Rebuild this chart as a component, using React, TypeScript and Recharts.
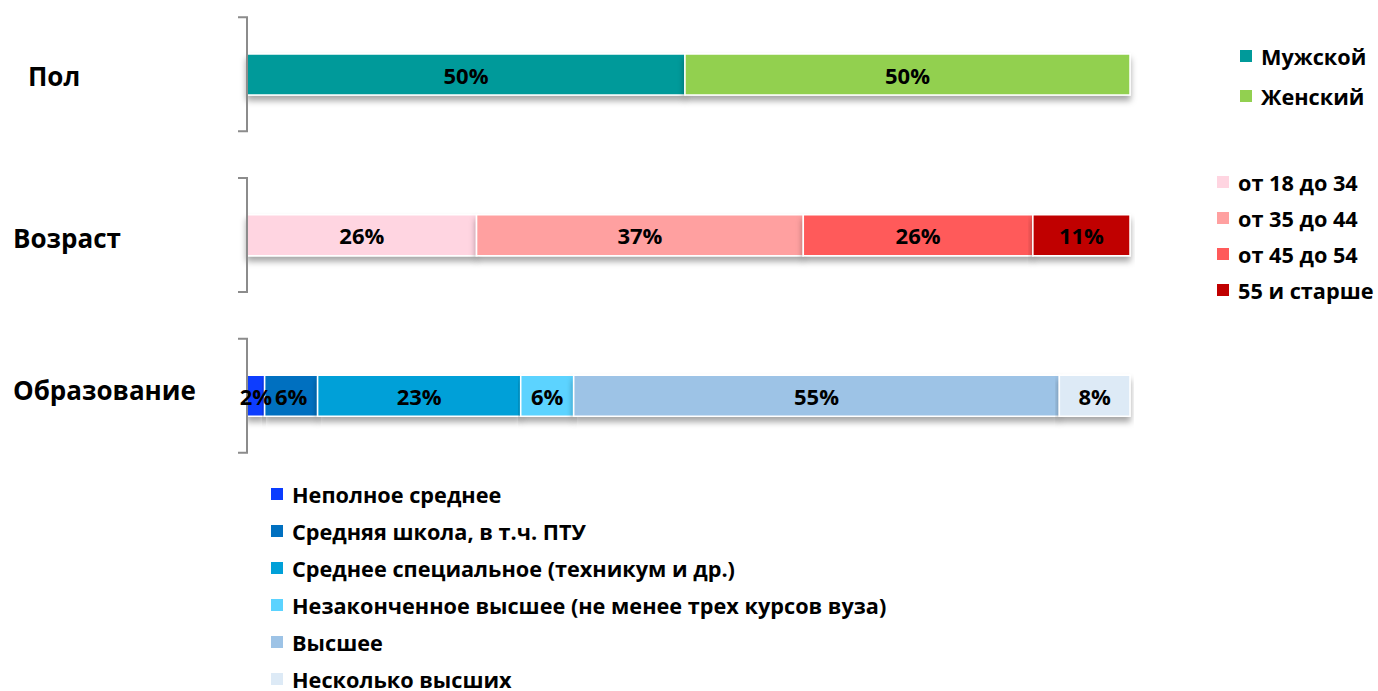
import React from 'react';
import { BarChart, Bar, XAxis, YAxis, LabelList, Legend } from 'recharts';

const categories = ['Пол', 'Возраст', 'Образование'];

const genderNames = ['Мужской', 'Женский'];
const genderValues = [49.6, 50.4];
const genderColors = ['#009A9A', '#92D050'];

const ageNames = ['от 18 до 34', 'от 35 до 44', 'от 45 до 54', '55 и старше'];
const ageValues = [26, 37, 26, 11];
const ageColors = ['#FFD5E1', '#FFA0A0', '#FF5A5A', '#C00000'];

const eduNames = [
  'Неполное среднее',
  'Средняя школа, в т.ч. ПТУ',
  'Среднее специальное (техникум и др.)',
  'Незаконченное высшее (не менее трех курсов вуза)',
  'Высшее',
  'Несколько высших',
];
const eduValues = [2, 6, 23, 6, 55, 8];
const eduColors = ['#0A3CFF', '#0070C0', '#00A0D8', '#5BD3FF', '#9DC3E6', '#DDEAF6'];

const groups = [
  { names: genderNames, values: genderValues, colors: genderColors },
  { names: ageNames, values: ageValues, colors: ageColors },
  { names: eduNames, values: eduValues, colors: eduColors },
];

const series = groups.flatMap((g, gi) =>
  g.names.map((name, i) => ({ key: `s${gi}_${i}`, name, color: g.colors[i], group: gi }))
);

const data = categories.map((cat, gi) => {
  const row: Record<string, any> = { cat };
  groups[gi].values.forEach((v, i) => {
    row[`s${gi}_${i}`] = v;
  });
  return row;
});

const FONT = '"Open Sans", sans-serif';

const labelIndent = [28, 13, 13];
const labelDy = [2, 3, -6];

const CategoryTick = (props: any) => {
  const { x, y, payload, index } = props;
  const h = 57;
  return (
    <g>
      <path
        d={`M ${x - 9} ${y - h} L ${x} ${y - h} L ${x} ${y + h} L ${x - 9} ${y + h}`}
        fill="none"
        stroke="#8c8c8c"
        strokeWidth={2}
      />
      <text
        x={labelIndent[index] ?? 13}
        y={y + (labelDy[index] ?? 0)}
        dominantBaseline="central"
        fontFamily={FONT}
        fontWeight={700}
        fontSize={26}
        fill="#000"
      >
        {payload.value}
      </text>
    </g>
  );
};

const legendLayout = [
  { left: 1240, top: 56, step: 40 },
  { left: 1217, top: 182, step: 36 },
  { left: 271, top: 494, step: 37 },
];

const LegendContent = (props: any) => {
  const payload = props.payload || [];
  return (
    <div style={{ position: 'relative', width: 1378, height: 691 }}>
      {groups.map((g, gi) =>
        g.names.map((name, i) => {
          const item = payload.find((p: any) => p.value === name);
          const color = item ? item.color : g.colors[i];
          const L = legendLayout[gi];
          return (
            <div
              key={`${gi}_${i}`}
              style={{
                position: 'absolute',
                left: L.left,
                top: L.top + i * L.step - 14,
                height: 28,
                display: 'flex',
                alignItems: 'center',
                whiteSpace: 'nowrap',
                fontFamily: FONT,
                fontWeight: 700,
                fontSize: 21.7,
                color: '#000',
              }}
            >
              <span style={{ display: 'inline-block', width: 12, height: 12, background: color, marginRight: 9 }} />
              {name}
            </div>
          );
        })
      )}
    </div>
  );
};

const renderLabel = (props: any) => {
  const { x, y, width, height, value } = props;
  if (value === undefined || value === null || !width) return null;
  return (
    <text
      x={x + width / 2}
      y={y + height / 2}
      textAnchor="middle"
      dominantBaseline="central"
      fontFamily={FONT}
      fontWeight={700}
      fontSize={22}
      fill="#000"
    >
      {`${Math.round(value)}%`}
    </text>
  );
};

export default function App() {
  return (
    <div style={{ position: 'absolute', left: 0, top: 0, width: 1378, height: 691, background: '#fff' }}>
      <BarChart
        width={1378}
        height={691}
        data={data}
        layout="vertical"
        margin={{ top: -6, right: 248, bottom: 215, left: 0 }}
        barSize={41}
      >
        <defs>
          <filter id="barShadow" x="-5%" y="-20%" width="110%" height="160%">
            <feDropShadow dx="0" dy="5" stdDeviation="3" floodColor="#000" floodOpacity="0.35" />
          </filter>
        </defs>
        <XAxis type="number" domain={[0, 100]} hide />
        <YAxis
          type="category"
          dataKey="cat"
          width={247}
          axisLine={false}
          tickLine={false}
          tickSize={0}
          tickMargin={0}
          tick={<CategoryTick />}
          interval={0}
        />
        <Legend
          layout="horizontal"
          verticalAlign="middle"
          align="center"
          content={<LegendContent />}
          wrapperStyle={{ position: 'absolute', left: 0, top: 0, width: 1378, height: 691, pointerEvents: 'none' }}
        />
        {series.map((s) => (
          <Bar
            key={s.key}
            dataKey={s.key}
            name={s.name}
            stackId="a"
            fill={s.color}
            stroke="#ffffff"
            strokeWidth={1.5}
            filter="url(#barShadow)"
            isAnimationActive={false}
          >
            <LabelList dataKey={s.key} content={renderLabel} />
          </Bar>
        ))}
      </BarChart>
    </div>
  );
}
